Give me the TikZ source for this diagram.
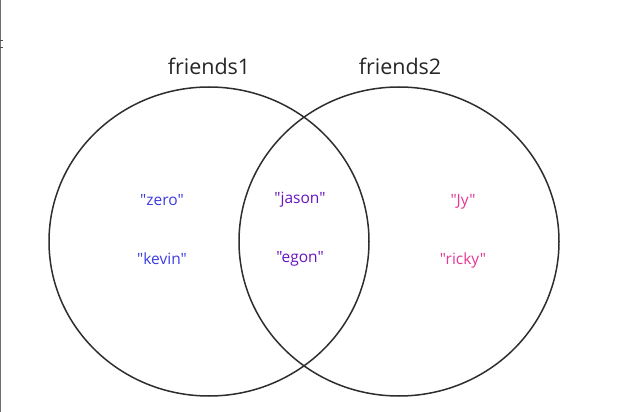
\documentclass[tikz,border=0pt]{standalone}
\usepackage{fontspec}
\usetikzlibrary{shapes.geometric}
\setmainfont{Open Sans}[Ligatures=TeXOff]
\definecolor{setblue}{RGB}{60,60,225}
\definecolor{setpurple}{RGB}{105,20,190}
\definecolor{setpink}{RGB}{228,55,150}
\definecolor{edgegray}{RGB}{110,110,110}
\begin{document}
\begin{tikzpicture}[x=1pt,y=-1pt,
  setline/.style={draw=black!82, line width=1.5pt},
  title/.style={font=\fontsize{21.5}{24}\selectfont, text=black!85, inner sep=0pt, anchor=base},
  item/.style={font=\fontsize{15.5}{18}\selectfont, inner sep=0pt, anchor=base}]
\useasboundingbox (0,0) rectangle (619,412);
\fill[white] (0,0) rectangle (619,412);
\draw[edgegray, line width=1.2pt] (0.6,0) -- (0.6,412);
\draw[black!70, line width=0.6pt] (0,40) -- (3,40);
\draw[black!70, line width=0.6pt] (0,47) -- (3,47);
\node[setline, ellipse, minimum width=320pt, minimum height=309pt, inner sep=0pt] (A) at (209,241.5) {};
\node[setline, ellipse, minimum width=320pt, minimum height=309pt, inner sep=0pt] (B) at (399,241.5) {};
\node[title] (tA) at (209,75) {friends1};
\node[title] (tB) at (400,75) {friends2};
\node[item, text=setblue] (zero) at (162,205) {"zero"};
\node[item, text=setblue] (kevin) at (162,264) {"kevin"};
\node[item, text=setpurple] (jason) at (300,203) {"jason"};
\node[item, text=setpurple] (egon) at (300,262) {"egon"};
\node[item, text=setpink] (jy) at (463,205) {"Jy"};
\node[item, text=setpink] (ricky) at (463,264) {"ricky"};
\end{tikzpicture}
\end{document}
